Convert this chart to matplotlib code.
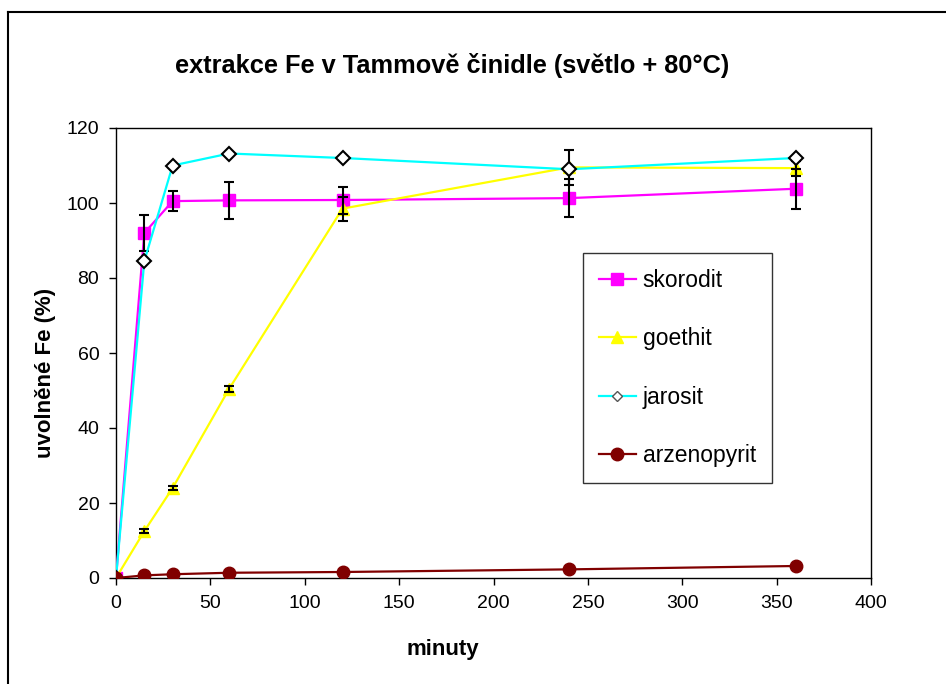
import numpy as np
import matplotlib.pyplot as plt
from matplotlib.lines import Line2D

plt.rcParams['font.family'] = ['Liberation Sans', 'DejaVu Sans']

# time points (minutes)
minuty = [0, 15, 30, 60, 120, 240, 360]

# released Fe (%)
skorodit = [0, 92.0, 100.5, 100.7, 100.8, 101.3, 103.8]
skorodit_err = [0, 4.7, 2.7, 5.0, 3.6, 5.0, 5.4]

goethit = [0, 12.5, 24.0, 50.5, 98.5, 109.5, 109.3]
goethit_err = [0, 0.6, 0.6, 0.8, 3.2, 4.6, 2.0]

jarosit = [0, 84.5, 110.0, 113.2, 112.0, 109.0, 112.0]

arzenopyrit = [0, 0.7, 1.0, 1.4, 1.6, 2.3, 3.2]

W, H = 946, 684
fig = plt.figure(figsize=(W / 100, H / 100), dpi=100)
ax = fig.add_axes([116 / W, 1 - 578 / H, (871 - 116) / W, (578 - 128) / H])

eb = dict(ecolor='black', elinewidth=1.5, capsize=3.3, capthick=1.5, fmt='none', zorder=4)

ax.errorbar(minuty, skorodit, yerr=skorodit_err, **eb)
ax.errorbar(minuty, goethit, yerr=goethit_err, **eb)

ax.plot(minuty, skorodit, color='#ff00ff', lw=1.6, marker='s', ms=9,
        mfc='#ff00ff', mec='#ff00ff', label='skorodit', zorder=3)
ax.plot(minuty, goethit, color='#ffff00', lw=1.6, marker='^', ms=9,
        mfc='#ffff00', mec='#ffff00', label='goethit', zorder=3)
ax.plot(minuty, jarosit, color='#00ffff', lw=1.6, marker='D', ms=7,
        mfc='white', mec='black', mew=1.5, label='jarosit', zorder=5)
ax.plot(minuty, arzenopyrit, color='#800000', lw=1.6, marker='o', ms=9,
        mfc='#800000', mec='#800000', label='arzenopyrit', zorder=6)

ax.set_xlim(0, 400)
ax.set_ylim(0, 120)
ax.set_xticks(np.arange(0, 401, 50))
ax.set_yticks(np.arange(0, 121, 20))
ax.tick_params(direction='out', length=5, width=1, labelsize=14, pad=7)
for s in ax.spines.values():
    s.set_color('black')
    s.set_linewidth(1)

fig.text(443 / W, 1 - 650 / H, 'minuty', ha='center', va='center',
         fontsize=16, fontweight='bold')
fig.text(46 / W, 1 - 373 / H, 'uvolněné Fe (%)', ha='center', va='center',
         rotation=90, fontsize=16, fontweight='bold')
fig.text(452 / W, 1 - 66 / H, 'extrakce Fe v Tammově činidle (světlo + 80°C)',
         ha='center', va='center', fontsize=18.3, fontweight='bold')

leg = ax.legend(loc='upper left', bbox_to_anchor=((583 - 116) / 755, (578 - 253) / 450),
                fontsize=16.5, frameon=True, fancybox=False, framealpha=1,
                labelspacing=1.55, handlelength=1.65, handletextpad=0.28,
                borderpad=0.68, borderaxespad=0)
leg.get_frame().set_edgecolor('#333333')
leg.get_frame().set_linewidth(1)
leg.legend_handles[2].set_markeredgecolor('#555555')
leg.legend_handles[2].set_markeredgewidth(1)
leg.legend_handles[2].set_markersize(5.5)

# outer frame of the chart area
fig.add_artist(Line2D([8 / W, 8 / W], [0, 1 - 12 / H], color='black', lw=1.5))
fig.add_artist(Line2D([8 / W, 1], [1 - 12 / H, 1 - 12 / H], color='black', lw=1.5))

plt.savefig('out.png', dpi=100)
